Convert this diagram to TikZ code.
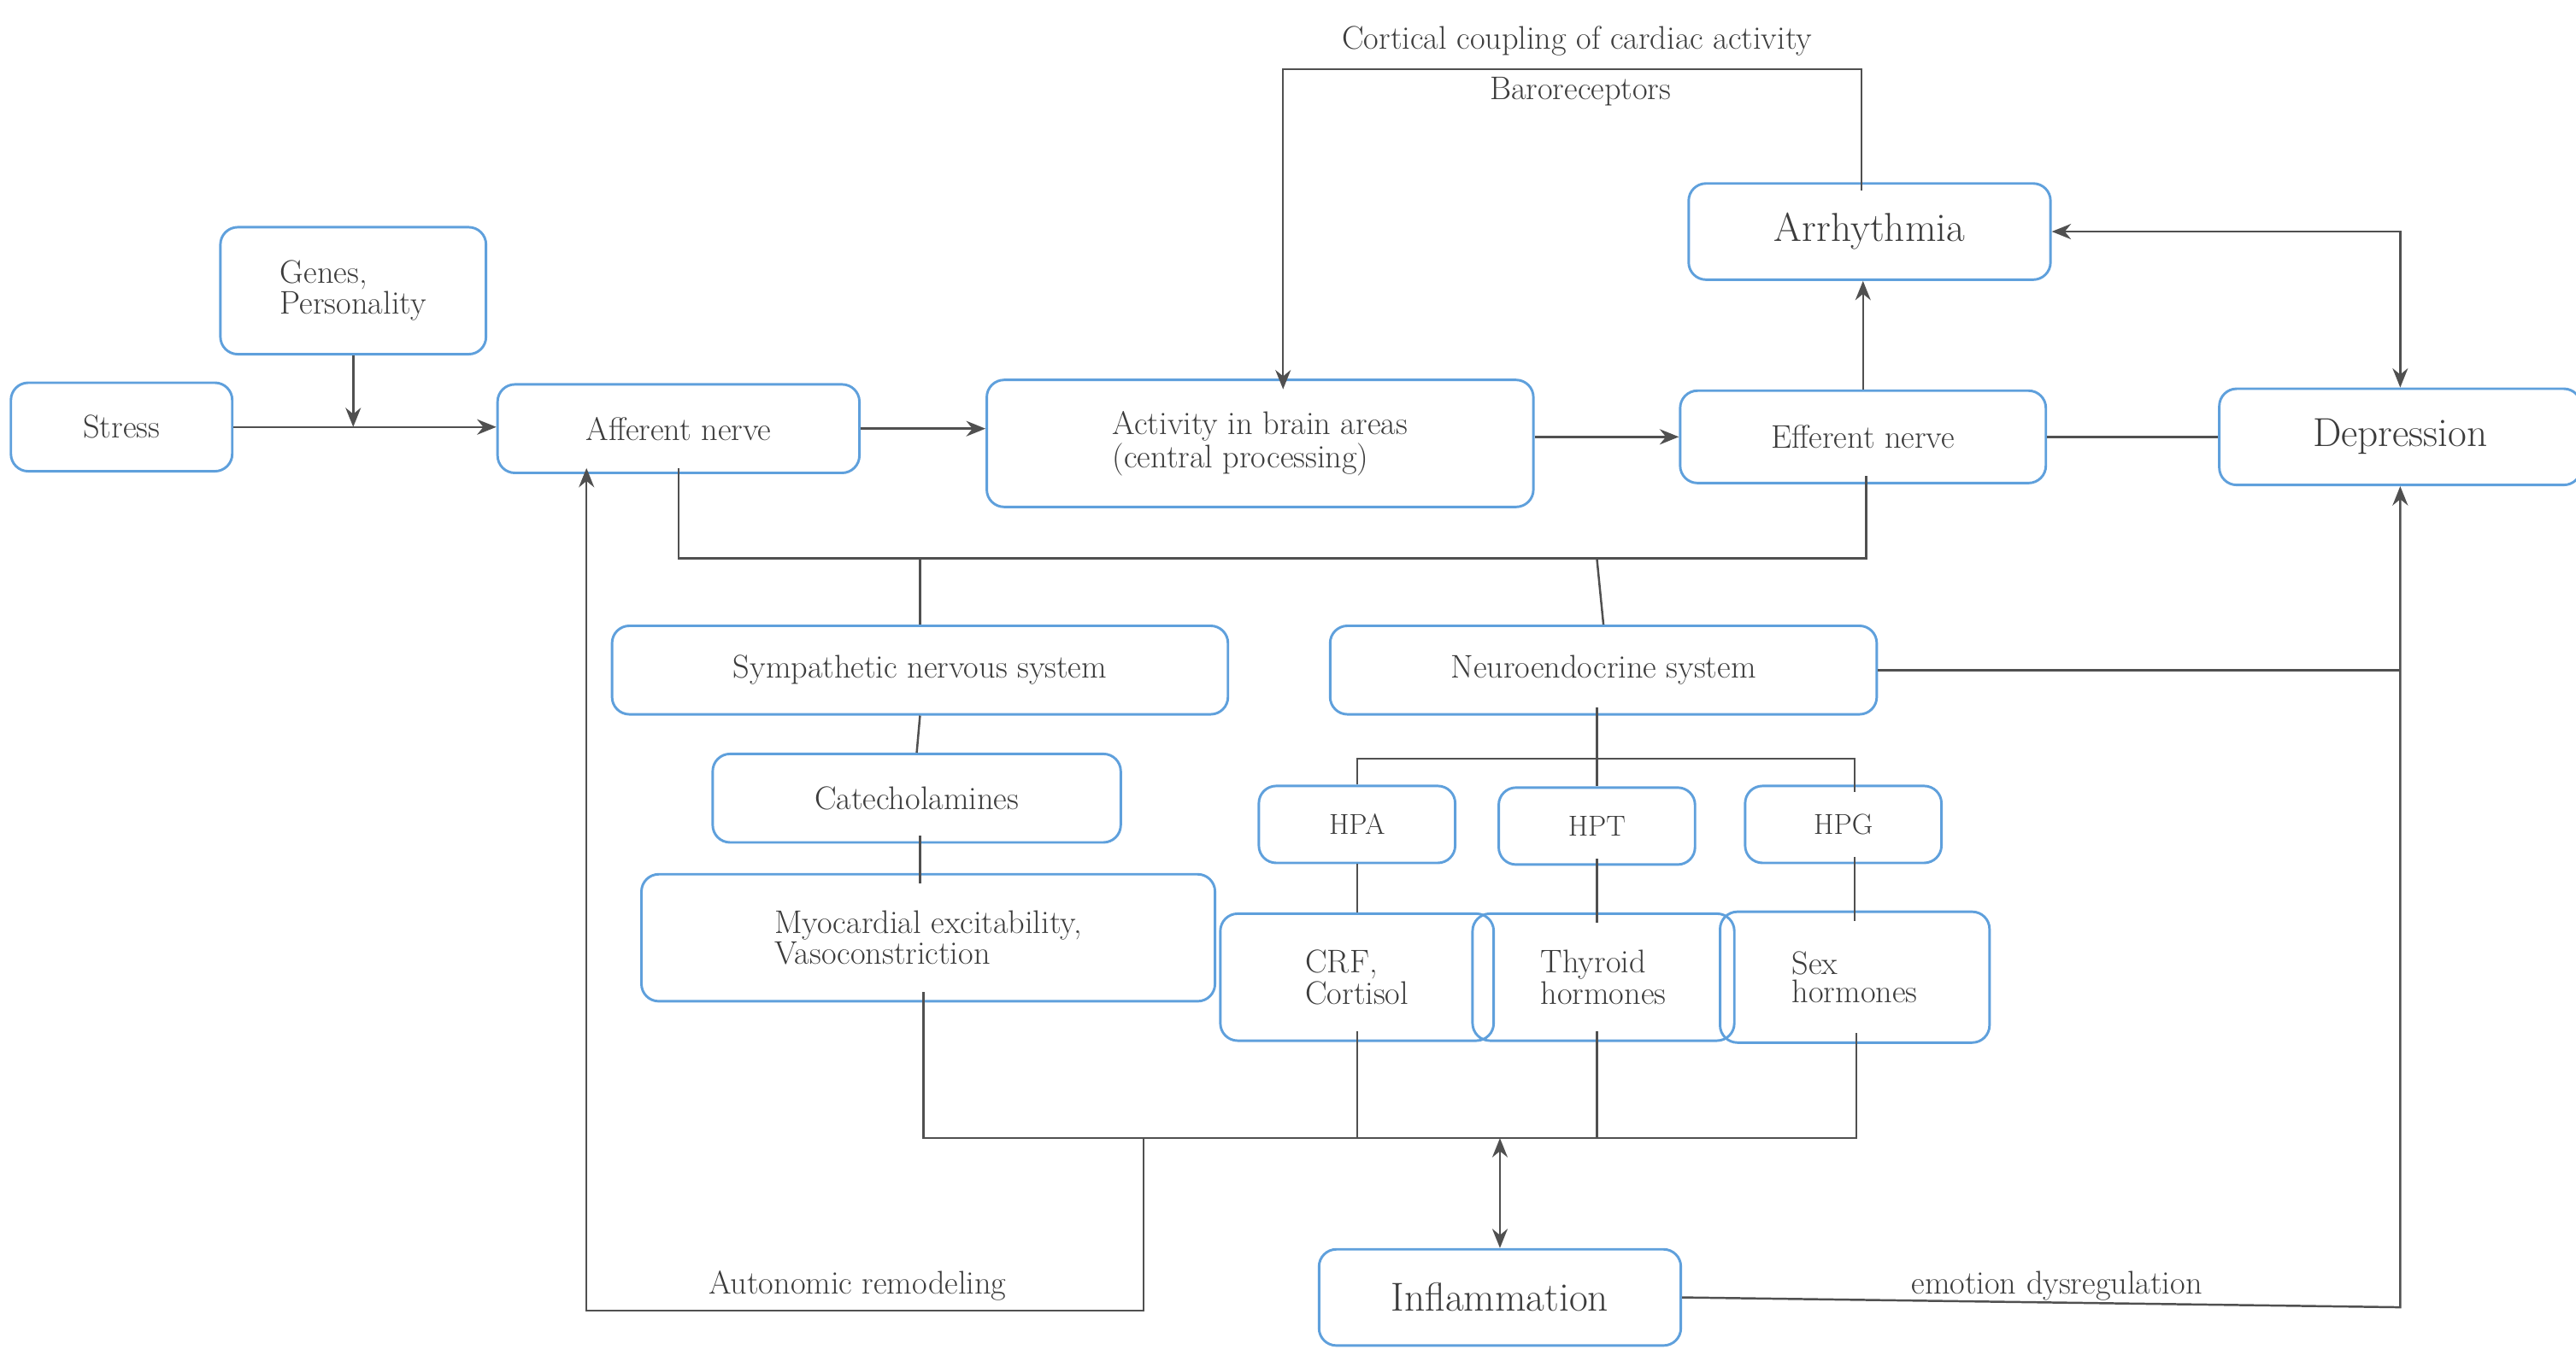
\documentclass[tikz,border=0pt]{standalone}
\usetikzlibrary{arrows.meta}
\definecolor{bx}{RGB}{95,160,220}
\definecolor{ln}{RGB}{80,80,80}
\definecolor{tx}{RGB}{60,60,60}
\begin{document}
\begin{tikzpicture}[x=0.03cm,y=-0.03cm,
 box/.style={draw=bx,line width=1.3pt,rounded corners=9pt,text=tx,align=left,inner sep=0pt,font=\fontsize{17}{15}\selectfont},
 con/.style={draw=ln,line width=1.1pt},
 arr/.style={con,-{Stealth[length=10pt,width=8pt]}},
 lbl/.style={text=tx,font=\fontsize{17}{18}\selectfont}]
\useasboundingbox (0,0) rectangle (1568,832);
\node[box,minimum width=115,minimum height=46] (stress) at (74,260) {Stress};
\node[box,minimum width=138,minimum height=66] (genes) at (215,177) {Genes,\\Personality};
\node[box,minimum width=188,minimum height=46] (aff) at (413,261) {Afferent nerve};
\node[box,minimum width=284,minimum height=66] (brain) at (767,270) {Activity in brain areas\\(central processing)};
\node[box,minimum width=190,minimum height=48] (eff) at (1134,266) {Efferent nerve};
\node[box,minimum width=188,minimum height=50,font=\fontsize{21}{22}\selectfont] (arr) at (1138,141) {Arrhythmia};
\node[box,minimum width=188,minimum height=50,font=\fontsize{21}{22}\selectfont] (dep) at (1461,266) {Depression};
\node[box,minimum width=320,minimum height=46] (sym) at (560,408) {Sympathetic nervous system};
\node[box,minimum width=284,minimum height=46] (neu) at (976,408) {Neuroendocrine system};
\node[box,minimum width=212,minimum height=46] (cat) at (558,486) {Catecholamines};
\node[box,minimum width=298,minimum height=66] (myo) at (565,571) {Myocardial excitability,\\Vasoconstriction};
\node[box,minimum width=102,minimum height=40,font=\fontsize{15}{16}\selectfont] (hpa) at (826,502) {HPA};
\node[box,minimum width=102,minimum height=40,font=\fontsize{15}{16}\selectfont] (hpt) at (972,503) {HPT};
\node[box,minimum width=102,minimum height=40,font=\fontsize{15}{16}\selectfont] (hpg) at (1122,502) {HPG};
\node[box,minimum width=142,minimum height=66] (crf) at (826,595) {CRF,\\Cortisol};
\node[box,minimum width=136,minimum height=66] (thy) at (976,595) {Thyroid\\hormones};
\node[box,minimum width=140,minimum height=68] (sex) at (1129,595) {Sex\\hormones};
\node[box,minimum width=188,minimum height=50,font=\fontsize{21}{22}\selectfont] (inf) at (913,790) {Inflammation};
\node[lbl] (t1) at (960,25) {Cortical coupling of cardiac activity};
\node[lbl] (t2) at (962,56) {Baroreceptors};
\node[lbl] (t3) at (522,783) {Autonomic remodeling};
\node[lbl] (t4) at (1252,783) {emotion dysregulation};
\coordinate (g) at (215,260);
\coordinate (j1) at (413,340); \coordinate (j2) at (1136,340);
\coordinate (b1) at (696,693); \coordinate (b2) at (913,693);
\draw[arr] (stress.east) -- (aff.west |- stress.east);
\draw[arr] (genes.south) -- (g);
\draw[arr] (aff.east) -- (brain.west |- aff.east);
\draw[arr] (brain.east |- eff.west) -- (eff.west);
\draw[arr] (eff.north) -- (eff.north |- arr.south);
\draw[con] (eff.east) -- (dep.west);
\draw[arr,{Stealth[length=10pt,width=8pt]}-{Stealth[length=10pt,width=8pt]}] (arr.east) -| (dep.north);
\draw[arr] (1133,116) -- (1133,42) -- (781,42) -- (781,237);
\draw[con] (413,285) -- (j1) -- (j2) -- (1136,290);
\draw[con] (560,340) -- (sym.north);
\draw[con] (972,340) -- (neu.north);
\draw[con] (sym.south) -- (cat.north);
\draw[con] (560,509) -- (560,538);
\draw[con] (972,431) -- (972,462);
\draw[con] (hpa.north) -- (826,462) -- (1129,462) -- (1129,482);
\draw[con] (972,462) -- (hpt.north);
\draw[con] (hpa.south) -- (crf.north);
\draw[con] (972,523) -- (972,562);
\draw[con] (1129,522) -- (1129,561);
\draw[con] (562,604) -- (562,693) -- (1130,693) -- (1130,629);
\draw[con] (826,628) -- (826,693);
\draw[con] (972,628) -- (972,693);
\draw[arr,{Stealth[length=10pt,width=8pt]}-{Stealth[length=10pt,width=8pt]}] (inf.north) -- (b2);
\draw[arr] (b1) -- (696,798) -- (357,798) -- (357,285);
\draw[arr] (inf.east) -- (1461,796) -- (dep.south);
\draw[con] (neu.east) -- (1461,408);
\end{tikzpicture}
\end{document}
